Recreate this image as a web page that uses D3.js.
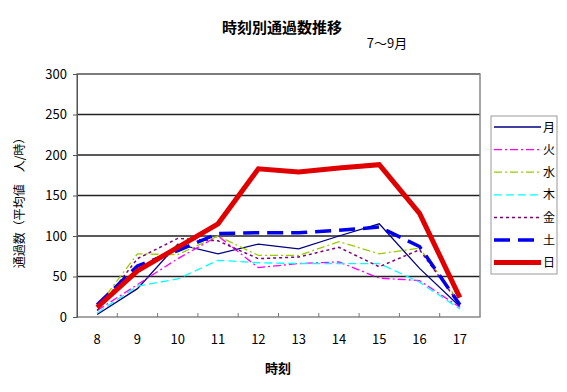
<!DOCTYPE html>
<html><head><meta charset="utf-8">
<script src="https://cdn.jsdelivr.net/npm/d3@7"></script>
<style>body{margin:0;background:#fff;} svg{display:block;} text{font-family:"Noto Sans CJK JP","Noto Sans",sans-serif;}</style>
</head><body>
<svg id="c" width="567" height="392"></svg>
<script>
const hours = ["8","9","10","11","12","13","14","15","16","17"];
const yTicks = [0,50,100,150,200,250,300];
const seriesNames = ["月","火","水","木","金","土","日"];
const mon = [3,35,90,78,90,84,100,115,60,13];
const tue = [8,40,72,100,61,66,68,48,45,12];
const wed = [12,78,77,100,76,76,93,78,85,18];
const thu = [5,38,47,70,67,66,66,66,43,10];
const fri = [8,72,97,94,72,74,86,62,83,15];
const sat = [15,63,82,103,104,104,107,111,87,15];
const sun = [12,57,86,115,183,179,184,188,128,24];
const seriesValues = [mon,tue,wed,thu,fri,sat,sun];
const styles = [
  {c:"#000080",w:1.3,d:null},
  {c:"#ff00ff",w:1.3,d:"8,3,2,3"},
  {c:"#99cc00",w:1.3,d:"8,3,2,3"},
  {c:"#00ffff",w:1.3,d:"8,4"},
  {c:"#800080",w:1.5,d:"3,3"},
  {c:"#0000ee",w:3.5,d:"16,8"},
  {c:"#e00000",w:5,d:null}
];

const svg = d3.select("#c");
const L=77, R=480, T=74, B=317;
const x = d3.scaleBand().domain(hours).range([L,R]);
const y = d3.scaleLinear().domain([0,300]).range([B,T]);

// gridlines
svg.append("g").selectAll("line").data(yTicks.filter(v=>v>0)).join("line")
  .attr("x1",L).attr("x2",R).attr("y1",d=>y(d)).attr("y2",d=>y(d))
  .attr("stroke","#222").attr("stroke-width",1.5);
// plot border
svg.append("rect").attr("x",L).attr("y",T).attr("width",R-L).attr("height",B-T)
  .attr("fill","none").attr("stroke","#888").attr("stroke-width",1.5);
// y axis
const ya = svg.append("g").attr("transform",`translate(${L},0)`)
  .call(d3.axisLeft(y).tickValues(yTicks).tickSize(4).tickPadding(6));
ya.select(".domain").attr("stroke","#555");
ya.selectAll("line").attr("stroke","#555");
ya.selectAll("text").attr("font-size",13).attr("fill","#000").style("font-family","'Noto Sans CJK JP',sans-serif");
// x axis: inward ticks at band boundaries
svg.append("g").selectAll("line").data(hours.slice(1)).join("line")
  .attr("x1",d=>x(d)).attr("x2",d=>x(d)).attr("y1",B).attr("y2",B-4)
  .attr("stroke","#777").attr("stroke-width",1);
svg.append("g").selectAll("text").data(hours).join("text")
  .attr("x",d=>x(d)+x.bandwidth()/2).attr("y",344).attr("text-anchor","middle")
  .attr("font-size",13).text(d=>d);

// lines
const line = d3.line().x((d,i)=>x(hours[i])+x.bandwidth()/2).y(d=>y(d));
seriesValues.forEach((vals,k)=>{
  const s=styles[k];
  svg.append("path").datum(vals).attr("d",line).attr("fill","none")
    .attr("stroke",s.c).attr("stroke-width",s.w).attr("stroke-dasharray",s.d)
    .attr("stroke-linejoin","miter");
});

// titles
svg.append("text").attr("x",282).attr("y",33).attr("text-anchor","middle")
  .attr("font-size",15).attr("font-weight","bold").text("時刻別通過数推移");
svg.append("text").attr("x",387).attr("y",48).attr("text-anchor","middle")
  .attr("font-size",13).text("7～9月");
svg.append("text").attr("x",278).attr("y",373).attr("text-anchor","middle")
  .attr("font-size",13).attr("font-weight","bold").text("時刻");
svg.append("text").attr("transform","translate(24,200) rotate(-90)").attr("text-anchor","middle")
  .attr("font-size",12).text("通過数（平均値　人/時）");

// legend
const lg = svg.append("g");
lg.append("rect").attr("x",491).attr("y",116).attr("width",66).attr("height",158)
  .attr("fill","#fff").attr("stroke","#999").attr("stroke-width",1);
seriesNames.forEach((n,k)=>{
  const yy = 127 + k*22.6, s=styles[k];
  lg.append("line").attr("x1",494).attr("x2",541).attr("y1",yy).attr("y2",yy)
    .attr("stroke",s.c).attr("stroke-width",s.w).attr("stroke-dasharray",s.d);
  lg.append("text").attr("x",543).attr("y",yy+4.5).attr("font-size",12).text(n);
});
</script>
</body></html>
